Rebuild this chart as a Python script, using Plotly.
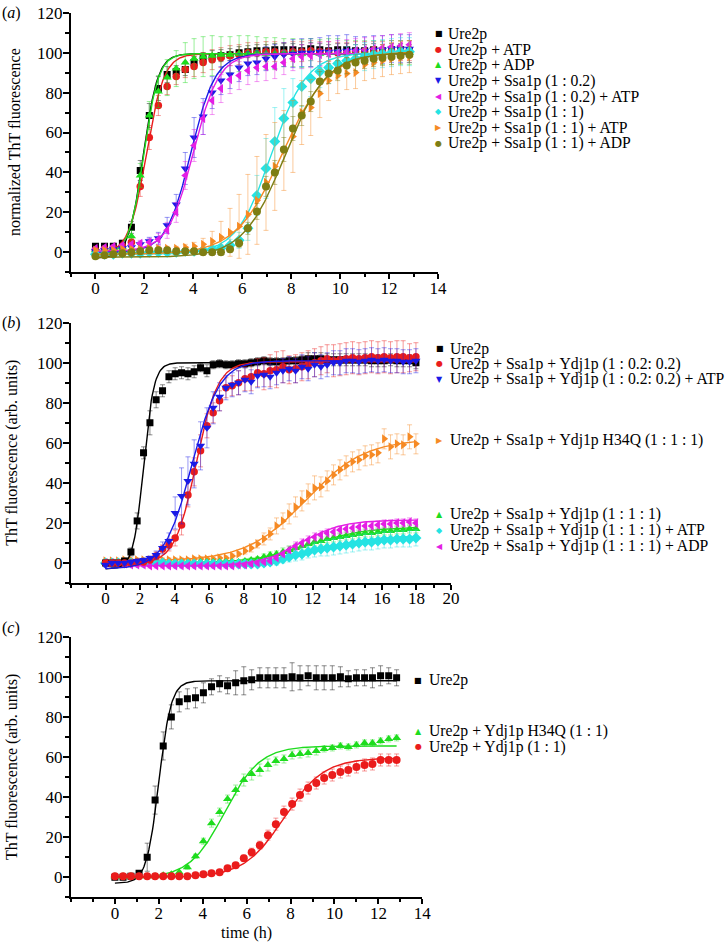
import numpy as np
import plotly.graph_objects as go

W, H = 728, 942
FONT = '"Liberation Serif", "Times New Roman", Times, serif'

# ---------------- data ----------------
# sampling times (h), every 22 min
T_A = [0, 0.37, 0.73, 1.1, 1.47, 1.83, 2.2, 2.57, 2.93, 3.3, 3.67, 4.03, 4.4, 4.77, 5.13, 5.5, 5.87, 6.23,
       6.6, 6.97, 7.33, 7.7, 8.07, 8.43, 8.8, 9.17, 9.53, 9.9, 10.27, 10.63, 11.0, 11.37, 11.73, 12.1, 12.47, 12.83]
T_B = [0, 0.37, 0.73, 1.1, 1.47, 1.83, 2.2, 2.57, 2.93, 3.3, 3.67, 4.03, 4.4, 4.77, 5.13, 5.5, 5.87, 6.23,
       6.6, 6.97, 7.33, 7.7, 8.07, 8.43, 8.8, 9.17, 9.53, 9.9, 10.27, 10.63, 11.0, 11.37, 11.73, 12.1, 12.47, 12.83,
       13.2, 13.57, 13.93, 14.3, 14.67, 15.03, 15.4, 15.77, 16.13, 16.5, 16.87, 17.23, 17.6, 17.97]
T_C = [0, 0.37, 0.73, 1.1, 1.47, 1.83, 2.2, 2.57, 2.93, 3.3, 3.67, 4.03, 4.4, 4.77, 5.13, 5.5, 5.87, 6.23,
       6.6, 6.97, 7.33, 7.7, 8.07, 8.43, 8.8, 9.17, 9.53, 9.9, 10.27, 10.63, 11.0, 11.37, 11.73, 12.1, 12.47, 12.83]

# ---- panel (a): normalized ThT fluorescence ----
A_LABELS = ["Ure2p", "Ure2p + ATP", "Ure2p + ADP", "Ure2p + Ssa1p (1 : 0.2)", "Ure2p + Ssa1p (1 : 0.2) + ATP",
            "Ure2p + Ssa1p (1 : 1)", "Ure2p + Ssa1p (1 : 1) + ATP", "Ure2p + Ssa1p (1 : 1) + ADP"]
A_URE2P = [3, 3, 3, 4.5, 12.5, 41, 68.5, 82, 89, 90.5, 91.5, 95, 97, 98, 98.5, 99, 100, 100.5, 101, 101, 101.5,
           101.5, 101.5, 101, 102, 101.5, 101, 101.5, 101.5, 101, 101, 101.5, 101, 101.5, 101.5, 101]
A_ATP = [1, 1.5, 2, 3, 5, 33, 57.5, 73.5, 83, 88, 91.5, 93, 95, 96.5, 97.5, 98.5, 99, 100, 100, 100.5, 100.5, 100,
         100.5, 100.5, 101, 100.5, 100.5, 100, 100, 100.5, 100.5, 100.5, 100.5, 101, 101, 101]
A_ADP = [1, 1.5, 2, 2.5, 8, 38.5, 68.5, 80.5, 87.5, 92, 95, 97, 98, 98.5, 99, 99, 99.5, 99.5, 100, 99.5, 99.5, 100,
         100, 99.5, 100, 99.5, 100, 100, 100, 100, 100, 100, 100, 100, 100, 100]
A_SSA02 = [0.5, 1, 1.5, 2, 2.5, 4, 5.5, 7, 13.5, 24, 42, 57.5, 68, 80, 86, 89, 92.5, 94.5, 95, 97, 98, 99, 99.5,
           100, 100, 100.5, 100.5, 100.5, 101, 101, 101, 101.5, 101.5, 102, 102, 102]
A_SSA02_ATP = [2, 2.5, 3, 3.5, 4, 4.5, 5, 6.5, 11, 20, 38.5, 53.5, 67, 76, 82, 86.5, 88.5, 91, 92.5, 93, 93, 95,
               97, 98, 98.5, 99, 99.5, 100, 100.5, 101, 101.5, 102, 102.5, 103, 103.5, 104]
A_SSA1 = [-1, -1, -1, -0.5, -0.5, -0.5, 0, 0, 0, 0, 0.5, 0.5, 1, 1.5, 2, 3.5, 6, 12, 28.5, 42, 55.5, 67, 75, 83,
          87, 90.5, 92.5, 94.5, 96, 97, 98, 99, 99.5, 100, 100.5, 100.5]
A_SSA1_ATP = [1, 1, 1, 1.5, 1.5, 1.5, 2, 2, 2, 2, 2.5, 3, 4, 5.5, 7.5, 10, 13, 19, 26, 35, 43, 51, 58, 70, 72.5,
              79.5, 86, 88.5, 89.5, 90, 94, 95, 96, 97, 97.5, 98]
A_SSA1_ADP = [-2, -1.5, -1, -0.5, 0, 0.5, 1, 1, 1, 0.5, 0.5, 0.5, 0, 0, 0, 1.5, 4.5, 12, 20.5, 33, 40, 51.5, 62,
              68.5, 75.5, 85.5, 89.5, 91, 93.5, 95, 96, 97, 97.5, 98, 98.5, 99]
A_ERR = [
    [1, 1, 1, 1.5, 3, 5, 6, 6, 4, 3, 3, 3, 3, 3, 3, 3, 3, 3, 3, 3, 3, 3, 3, 3, 3, 3, 3, 3, 3, 3, 3, 3, 3, 3, 3, 3],
    [1, 1, 1, 1.5, 2, 5, 6, 5, 4, 4, 4, 5, 5, 5, 5, 5, 5, 5, 5, 5, 5, 5, 5, 5, 5, 5, 5, 5, 5, 5, 5, 5, 5, 5, 5, 5],
    [1, 1, 1, 1.5, 3, 6, 7, 8, 9, 9, 10, 10, 10, 10, 9, 9, 9, 9, 8, 8, 8, 7, 7, 7, 7, 7, 7, 7, 6, 6, 6, 6, 6, 6, 6, 6],
    [1, 1, 1, 1, 1, 1.5, 2, 3, 4, 5, 8, 10, 9, 8, 7, 7, 7, 6, 6, 6, 6, 6, 7, 7, 7, 7, 8, 8, 8, 7, 7, 7, 7, 7, 7, 7],
    [1, 1, 1, 1, 1, 1.5, 2, 3, 4, 5, 7, 8, 8, 7, 7, 7, 7, 7, 7, 7, 6, 6, 6, 6, 6, 6, 6, 6, 6, 6, 6, 6, 6, 6, 6, 6],
    [1, 1, 1, 1, 1, 1, 1, 1, 1, 1, 1, 1, 1.5, 2, 2, 3, 4, 6, 10, 15, 17, 15, 12, 10, 9, 8, 8, 7, 7, 7, 7, 7, 7, 7, 7, 7],
    [1, 1, 1, 1, 1, 1, 1, 1, 1, 1, 1.5, 2, 3, 5, 8, 12, 16, 20, 22, 24, 22, 20, 18, 16, 14, 12, 10, 9, 8, 8, 8, 8, 8, 8, 8, 8],
    [1, 1, 1, 1, 1, 1, 1, 1, 1, 1, 1, 1, 1, 1, 1, 1.5, 2, 3, 4, 5, 6, 6, 6, 5, 5, 5, 5, 5, 4, 4, 4, 4, 4, 4, 4, 4],
]
# Boltzmann fit parameters (A1, A2, x0, dx)
A_FITS = [(-3, 99.5, 1.95, 0.3), (-1, 99.5, 2.08, 0.36), (-1, 99.5, 1.98, 0.3), (0, 99.5, 3.9, 0.5),
          (0.5, 99.5, 4.0, 0.52), (-1, 100, 7.2, 0.72), (-1, 100.5, 7.65, 0.95), (-2.5, 100, 7.75, 0.85)]

# ---- panel (b) ----
B_LABELS = ["Ure2p", "Ure2p + Ssa1p + Ydj1p (1 : 0.2: 0.2)", "Ure2p + Ssa1p + Ydj1p (1 : 0.2: 0.2) + ATP",
            "Ure2p + Ssa1p + Ydj1p H34Q (1 : 1 : 1)", "Ure2p + Ssa1p + Ydj1p (1 : 1 : 1)",
            "Ure2p + Ssa1p + Ydj1p (1 : 1 : 1) + ATP", "Ure2p + Ssa1p + Ydj1p (1 : 1 : 1) + ADP"]
B_URE2P = [0, 0, 0, 1, 5.5, 21, 55, 70, 81.5, 86, 93, 94.5, 95, 94.5, 95.5, 97.5, 96, 99, 99.5, 99, 99, 99.5, 99.5,
           100, 100.5, 101, 100.5, 100.5, 100.5, 101, 101, 101.5, 102, 102, 102, 101.5, 101.5, 101.5, 101.5, 101.5,
           101.5, 101.5, 101, 101, 101, 101.5, 101, 101, 101, 100]
B_YDJ02 = [0, 0, 0, 0, 0, 0.5, 0.5, 1.5, 3.5, 7, 9, 12.5, 19, 34, 45.5, 56, 68.5, 75, 81, 87.5, 88.5, 90, 92, 93,
           95, 94.5, 96, 96.5, 98, 96.5, 97, 98, 99, 100, 101, 102, 101, 101.5, 102, 102.5, 102, 102.5, 103, 102.5,
           103, 102.5, 103, 103, 102.5, 103]
B_YDJ02_ATP = [-1, 0, 0, 0, 0.5, 1, 1.5, 2.5, 4, 7.5, 11, 25, 33.5, 41, 49.5, 58.5, 67.5, 77.5, 83, 87.5, 89, 90,
               91.5, 90.5, 93.5, 94, 93, 95, 96, 97, 96, 98, 97, 99, 98, 99, 100, 100, 101, 101, 100.5, 101, 101.5,
               101, 101.5, 101, 101, 100.5, 100.5, 101]
B_H34Q = [1, 1, 1, 1.5, 1.5, 1.5, 1.5, 1.5, 1.5, 1.5, 1.5, 1.5, 1.5, 1.5, 2, 2, 2, 2, 2.5, 2.5, 3.5, 4.5, 6, 7.5,
          9.5, 12, 14.5, 18.5, 21, 24.5, 28, 31, 34.5, 37.5, 38, 41, 44, 46.5, 48.5, 50.5, 51.5, 53.5, 54, 55, 62,
          58, 59.5, 59, 63, 59.5]
B_YDJ1 = [0, 0, 0, 0, 0, 0, 0, 0, 0, 0, 0, 0, 0, 0, 0, 0.5, 0.5, 0.5, 0.5, 0.5, 0.5, 0.5, 1, 1.5, 2, 3, 4, 4.5,
          5.5, 6.5, 7.5, 8.5, 9.5, 10.5, 11, 12, 12.5, 13, 13.5, 14, 14.5, 15, 15, 15.5, 16, 16, 16.5, 16.5, 17, 17]
B_YDJ1_ATP = [0, 0, 0, 0, 0, 0, 0, 0, 0, 0, -0.5, -0.5, -0.5, -0.5, -0.5, -0.5, -0.5, -0.5, -0.5, -0.5, -0.5, -0.5,
              -0.5, -0.5, -0.5, 0, 0.5, 1, 2, 3, 4, 4.5, 5.5, 6.5, 7, 7.5, 8, 8.5, 9, 9.5, 10, 10.5, 10.5, 11, 11.5,
              11.5, 12, 12, 12, 12.5]
B_YDJ1_ADP = [0, 0, -0.5, -0.5, -1, -1, -1, -1.5, -1.5, -1.5, -1.5, -1.5, -1.5, -1.5, -1.5, -1.5, -1.5, -1.5,
              -1.5, -1.5, -1.5, -1, -1, -0.5, 0, 0.5, 1, 2.5, 4.5, 6.5, 8.5, 10, 11.5, 13, 14, 15, 15.5, 16.5, 17,
              17.5, 18, 18.5, 18.5, 19, 19.5, 19.5, 20, 20, 20.5, 20]
B_ERR = [
    [1, 1, 1, 1, 2, 4, 3, 6, 4, 3, 3, 3, 3, 3, 3, 2, 3, 2, 2, 2, 2, 2, 2, 2, 2, 2, 2, 2, 2, 2, 2, 2, 3, 3, 3, 3, 3, 3,
     3, 3, 3, 3, 3, 3, 3, 3, 3, 3, 3, 3],
    [1, 1, 1, 1, 1, 1, 1, 1, 2, 2, 3, 4, 5, 6, 7, 8, 6, 5, 5, 5, 5, 6, 6, 7, 7, 8, 8, 9, 8, 7, 7, 7, 7, 7, 7, 7, 8, 8,
     8, 8, 8, 8, 8, 8, 8, 8, 8, 8, 7, 7],
    [1, 1, 1, 1, 1, 1, 1, 1, 2, 3, 4, 8, 14, 12, 12, 12, 10, 8, 7, 6, 6, 6, 6, 6, 6, 6, 6, 6, 6, 6, 6, 6, 6, 6, 6, 6,
     6, 6, 6, 6, 6, 6, 6, 6, 6, 6, 6, 6, 6, 6],
    [1, 1, 1, 1, 1, 1, 1, 1, 1, 1, 1, 1, 1, 1, 1, 1, 1, 1, 1, 1, 1, 1, 1.5, 2, 2, 3, 3, 4, 4, 5, 5, 5, 5, 6, 5, 5, 5,
     5, 5, 5, 5, 5, 5, 5, 5, 6, 5, 5, 6, 5],
    [1, 1, 1, 1, 1, 1, 1, 1, 1, 1, 1, 1, 1, 1, 1, 1, 1, 1, 1, 1, 1, 1, 1, 1, 1, 1.5, 1.5, 1.5, 2, 2, 2, 2, 2, 2, 2, 2,
     2, 2, 2, 2, 2, 2, 2, 2, 2, 2, 2, 2, 2, 2],
    [1, 1, 1, 1, 1, 1, 1, 1, 1, 1, 1, 1, 1, 1, 1, 1, 1, 1, 1, 1, 1, 1, 1, 1, 1, 1.5, 1.5, 2, 2, 2.5, 3, 3, 3, 3.5,
     3.5, 4, 4, 4, 4, 4, 4, 4, 4, 4, 4, 4, 4, 4, 4, 4],
    [1, 1, 1, 1, 1, 1, 1, 1, 1, 1, 1, 1, 1, 1, 1, 1, 1, 1, 1, 1, 1, 1, 1, 1, 1, 1, 1, 1, 1.5, 1.5, 2, 2, 2, 2, 2, 2,
     2, 2, 2, 2, 2, 2, 2, 2, 2, 2, 2, 2, 2, 2],
]
B_FITS = [(-3, 100, 2.2, 0.3), (-0.5, 100.5, 5.25, 0.62), (-3, 101, 5.0, 0.8), (1, 62, 11.6, 1.7),
          (0, 18, 11.8, 1.6), (-0.5, 13.5, 12.3, 1.5), (-1.5, 21.5, 11.3, 1.2)]

# ---- panel (c) ----
C_LABELS = ["Ure2p", "Ure2p + Ydj1p H34Q (1 : 1)", "Ure2p + Ydj1p (1 : 1)"]
C_URE2P = [0, 0, 0.5, 2, 10, 38.5, 65.5, 80, 87.5, 89, 89.5, 92, 95, 96.5, 95.5, 97, 98, 98.5, 99.5, 99.5, 99.5,
           99.5, 100, 99.5, 100.5, 99.5, 99.5, 99.5, 100, 99, 99.5, 99.5, 99.5, 100.5, 100.5, 99.5]
C_H34Q = [0.5, 0.5, 0.5, 0.5, 0.5, 0.5, 1, 1.5, 2.5, 5, 10.5, 18, 27, 32.5, 39, 43.5, 48.5, 51.5, 53.5, 56, 58,
          59, 61, 61.5, 62, 63, 64, 64.5, 65.5, 65, 66, 67, 67, 68, 69, 69.5]
C_YDJ1 = [0.5, 0.5, 0.5, 0.5, 0.5, 0.5, 0.5, 0.5, 0.5, 0.5, 1, 1.5, 2, 2.5, 4.5, 6, 9.5, 12.5, 16, 21, 26.5, 32.5,
          36.5, 41, 44.5, 47, 49.5, 51, 52.5, 53.5, 55, 56, 56.5, 58.5, 58.5, 58.5]
C_ERR = [
    [0.5, 0.5, 0.5, 1, 7, 7, 7, 6, 5, 5, 5, 5, 4, 4, 4, 6, 7, 5, 5, 5, 5, 5, 7, 6, 5, 6, 6, 6, 5, 4, 4, 4, 5, 5, 4, 4],
    [0.5, 0.5, 0.5, 0.5, 0.5, 0.5, 0.5, 0.5, 0.5, 1, 1, 1.5, 2, 2, 2, 2.5, 3, 3, 3, 3, 2, 2, 2, 2, 2, 2, 1.5, 1.5,
     1.5, 1.5, 1.5, 1.5, 1.5, 1.5, 1.5, 1.5],
    [0.5, 0.5, 0.5, 0.5, 0.5, 0.5, 0.5, 0.5, 0.5, 0.5, 0.5, 0.5, 0.5, 0.5, 1, 1, 1.5, 2, 2, 2.5, 3, 3, 3, 3, 3, 3,
     3, 3, 3, 3, 3, 3, 3, 3, 3, 3],
]
C_FITS = [(-3, 98, 2.0, 0.28), (-0.5, 65.5, 5.0, 0.8), (0, 59.5, 7.7, 0.9)]

# tick values and titles
X_TICKS_A = [0, 2, 4, 6, 8, 10, 12, 14]
X_TICKS_B = [0, 2, 4, 6, 8, 10, 12, 14, 16, 18, 20]
X_TICKS_C = [0, 2, 4, 6, 8, 10, 12, 14]
Y_TICKS = [0, 20, 40, 60, 80, 100, 120]
Y_TITLES = ["normalized ThT fluorescence", "ThT fluorescence (arb. units)", "ThT fluorescence (arb. units)"]
X_TITLE_C = "time (h)"
PANEL_TAGS = ["(<i>a</i>)", "(<i>b</i>)", "(<i>c</i>)"]

# ---------------- styles ----------------
BLACK, RED, GREEN, BLUE = "#000000", "#EA1C1C", "#1EDC1E", "#1A1AE6"
MAGENTA, CYAN, ORANGE, OLIVE = "#E41EE4", "#25E3E3", "#F68A24", "#7E7E14"


def rgba(hexc, a):
    h = hexc.lstrip("#")
    return "rgba(%d,%d,%d,%.2f)" % (int(h[0:2], 16), int(h[2:4], 16), int(h[4:6], 16), a)


def boltzmann(x, a1, a2, x0, dx):
    return a2 + (a1 - a2) / (1 + np.exp((x - x0) / dx))


fig = go.Figure()


def add_series(t, y, err, fit, color, symbol, size, name, xa, ya, tmax):
    fig.add_trace(go.Scatter(
        x=t, y=y, mode="markers", name=name, showlegend=False, xaxis=xa, yaxis=ya,
        marker=dict(symbol=symbol, size=size, color=color, line=dict(width=0)),
        error_y=dict(type="data", array=err, color=rgba(color, 0.45), thickness=1, width=2.5)))
    xs = np.linspace(0, tmax, 300)
    fig.add_trace(go.Scatter(
        x=xs, y=boltzmann(xs, *fit), mode="lines", showlegend=False, xaxis=xa, yaxis=ya,
        line=dict(color=color, width=1.4), hoverinfo="skip"))


A_SERIES = [A_URE2P, A_ATP, A_ADP, A_SSA02, A_SSA02_ATP, A_SSA1, A_SSA1_ATP, A_SSA1_ADP]
A_STYLE = [(BLACK, "square", 7), (RED, "circle", 7.5), (GREEN, "triangle-up", 8), (BLUE, "triangle-down", 8),
           (MAGENTA, "triangle-left", 8), (CYAN, "diamond", 8.5), (ORANGE, "triangle-right", 8),
           (OLIVE, "circle", 8)]
for y, e, f, (c, s, sz), lab in zip(A_SERIES, A_ERR, A_FITS, A_STYLE, A_LABELS):
    add_series(T_A, y, e, f, c, s, sz, lab, "x", "y", T_A[-1])

B_SERIES = [B_URE2P, B_YDJ02, B_YDJ02_ATP, B_H34Q, B_YDJ1, B_YDJ1_ATP, B_YDJ1_ADP]
B_STYLE = [(BLACK, "square", 7), (RED, "circle", 7.5), (BLUE, "triangle-down", 8), (ORANGE, "triangle-right", 8),
           (GREEN, "triangle-up", 8), (CYAN, "diamond", 8.5), (MAGENTA, "triangle-left", 8)]
B_DRAW_ORDER = [3, 4, 5, 6, 0, 1, 2]
for i in B_DRAW_ORDER:
    c, s, sz = B_STYLE[i]
    add_series(T_B, B_SERIES[i], B_ERR[i], B_FITS[i], c, s, sz, B_LABELS[i], "x2", "y2", T_B[-1])

C_SERIES = [C_URE2P, C_H34Q, C_YDJ1]
C_STYLE = [(BLACK, "square", 7), (GREEN, "triangle-up", 8), (RED, "circle", 8)]
for y, e, f, (c, s, sz), lab in zip(C_SERIES, C_ERR, C_FITS, C_STYLE, C_LABELS):
    add_series(T_C, y, e, f, c, s, sz, lab, "x3", "y3", T_C[-1])


# ---------------- axes ----------------
def px_x(p):
    return p / W


def px_y(p):
    return 1 - p / H


TICKFONT = dict(family=FONT, size=17, color="black")


def xaxis(d0, d1, rng, ticks, anchor):
    return dict(domain=[px_x(d0), px_x(d1)], range=rng, anchor=anchor, showline=True, linecolor="black",
                linewidth=2, ticks="outside", ticklen=5, tickwidth=1.8, tickcolor="black", tickvals=ticks,
                showgrid=False, zeroline=False, tickfont=TICKFONT, automargin=False, ticklabelstandoff=-6,
                minor=dict(dtick=1, tick0=0, ticks="outside", ticklen=3, tickwidth=1.5, tickcolor="black",
                           showgrid=False))


def yaxis(d0, d1, anchor):
    return dict(domain=[px_y(d1), px_y(d0)], range=[-10, 120], anchor=anchor, showline=True, linecolor="black",
                linewidth=2, ticks="outside", ticklen=6, tickwidth=1.8, tickcolor="black", tickvals=Y_TICKS,
                showgrid=False, zeroline=False, tickfont=TICKFONT, automargin=False, ticklabelstandoff=-3,
                minor=dict(dtick=10, tick0=0, ticks="outside", ticklen=4, tickwidth=1.5, tickcolor="black",
                           showgrid=False))


PANELS = [  # (x0, x1, y_top, y_bottom) in pixels
    (71, 438, 12.7, 272.3),
    (71, 451, 322.7, 583),
    (71, 422.3, 636.7, 897.3),
]

fig.update_layout(
    width=W, height=H, margin=dict(l=0, r=0, t=0, b=0, pad=0), paper_bgcolor="white", plot_bgcolor="white",
    showlegend=False, font=dict(family=FONT, color="black"),
    xaxis=xaxis(PANELS[0][0], PANELS[0][1], [-1, 14], X_TICKS_A, "y"),
    yaxis=yaxis(PANELS[0][2], PANELS[0][3], "x"),
    xaxis2=xaxis(PANELS[1][0], PANELS[1][1], [-2, 20], X_TICKS_B, "y2"),
    yaxis2=yaxis(PANELS[1][2], PANELS[1][3], "x2"),
    xaxis3=xaxis(PANELS[2][0], PANELS[2][1], [-2, 14], X_TICKS_C, "y3"),
    yaxis3=yaxis(PANELS[2][2], PANELS[2][3], "x3"),
)

# ---------------- annotations: legends, titles, panel tags ----------------
GLYPH = {"square": "\u25A0", "circle": "\u25CF", "triangle-up": "\u25B2", "triangle-down": "\u25BC",
         "triangle-left": "\u25C0", "diamond": "\u25C6", "triangle-right": "\u25B6"}
LEG_SIZE = 15.7
ann = []


def legend_entry(mx, tx, py, color, symbol, text):
    ann.append(dict(x=px_x(mx), y=px_y(py), xref="paper", yref="paper", text=GLYPH[symbol], showarrow=False,
                    xanchor="center", yanchor="middle", font=dict(family="DejaVu Sans", size=8, color=color)))
    ann.append(dict(x=px_x(tx), y=px_y(py), xref="paper", yref="paper", text=text, showarrow=False,
                    xanchor="left", yanchor="middle", font=dict(family=FONT, size=LEG_SIZE, color="black")))


A_LEG_Y = [34, 49.5, 65, 81, 96.5, 112, 127.5, 143.3]
for (c, s, sz), lab, py in zip(A_STYLE, A_LABELS, A_LEG_Y):
    legend_entry(438.5, 446, py, c, s, lab)

B_LEG_Y = [348.5, 363.5, 379, 440, 514, 530, 546]
for (c, s, sz), lab, py in zip(B_STYLE, B_LABELS, B_LEG_Y):
    legend_entry(439.5, 448, py, c, s, lab)

C_LEG_Y = [680, 731, 746.7]
for (c, s, sz), lab, py in zip(C_STYLE, C_LABELS, C_LEG_Y):
    legend_entry(418.5, 427, py, c, s, lab)

TAG_Y = [13, 323, 628]
YT_X = [14.5, 12, 12]
for (x0, x1, yt, yb), tag, ty, ttl, tx in zip(PANELS, PANEL_TAGS, TAG_Y, Y_TITLES, YT_X):
    ann.append(dict(x=0, y=px_y(ty), xref="paper", yref="paper", text=tag, showarrow=False, xanchor="left",
                    yanchor="middle", font=dict(family=FONT, size=16, color="black")))
    ann.append(dict(x=px_x(tx), y=px_y((yt + yb) / 2), xref="paper", yref="paper", text=ttl, showarrow=False,
                    textangle=-90, xanchor="center", yanchor="middle",
                    font=dict(family=FONT, size=16, color="black")))

ann.append(dict(x=px_x((PANELS[2][0] + PANELS[2][1]) / 2), y=px_y(933), xref="paper", yref="paper",
                text=X_TITLE_C, showarrow=False, xanchor="center", yanchor="middle",
                font=dict(family=FONT, size=16, color="black")))

fig.update_layout(annotations=ann)
fig.write_html("out.html", config={"displayModeBar": False},
               post_script="document.body.style.margin='0px';document.body.style.padding='0px';")
